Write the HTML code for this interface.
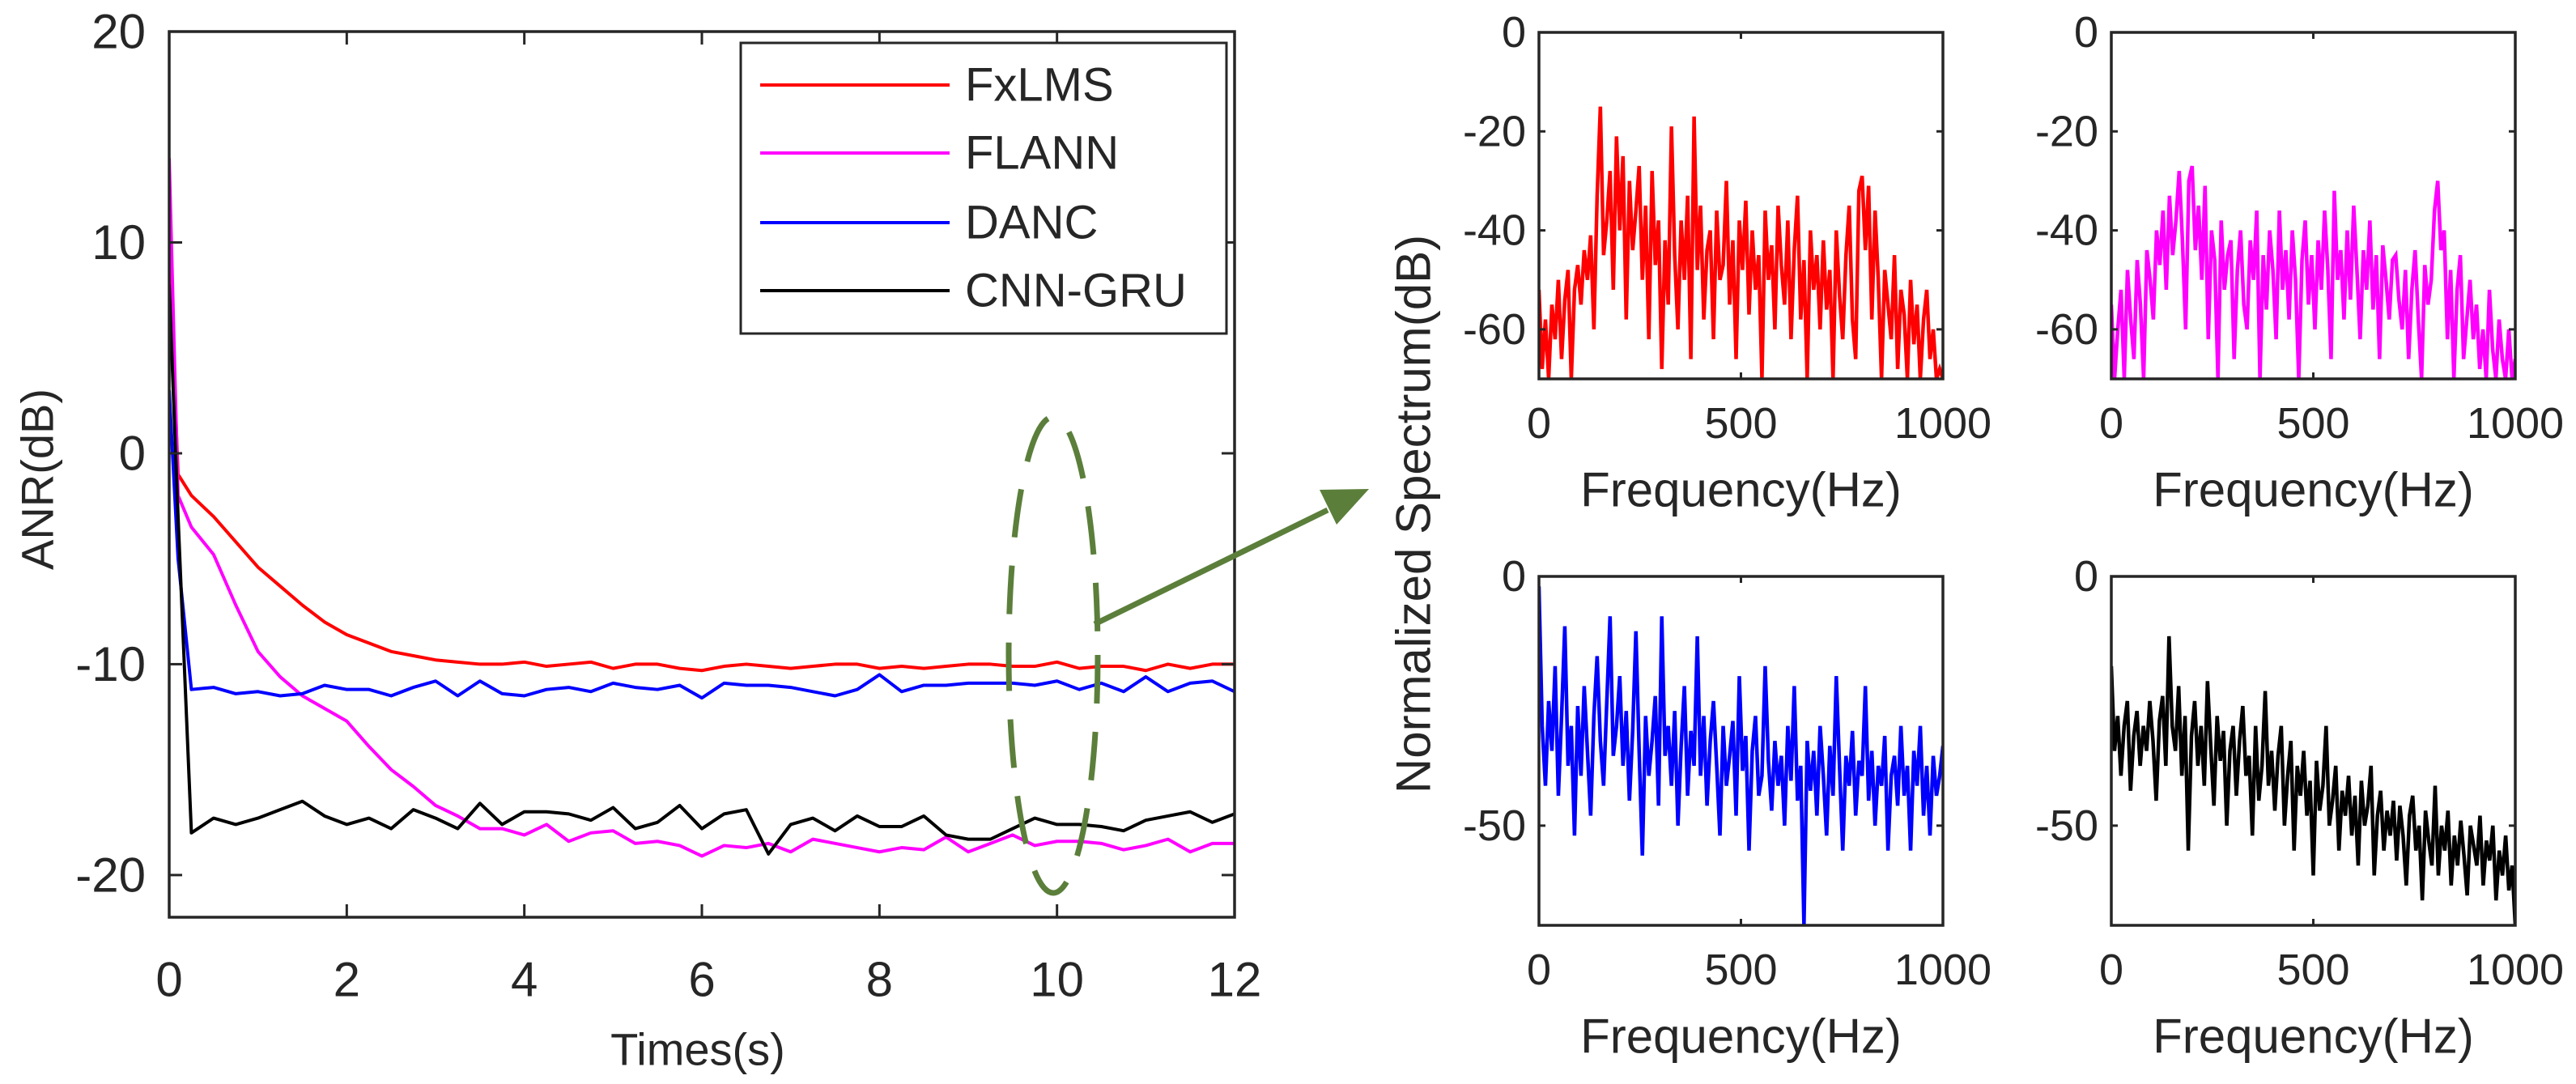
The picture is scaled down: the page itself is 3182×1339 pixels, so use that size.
<!DOCTYPE html>
<html><head><meta charset="utf-8"><style>
html,body{margin:0;padding:0;background:#fff}
svg{display:block}
text{font-family:"Liberation Sans",Arial,sans-serif;fill:#262626}
</style></head><body>
<svg id="fig" width="3182" height="1339" viewBox="0 0 3182 1339" xmlns="http://www.w3.org/2000/svg">
<g id="main"></g>
<g id="spec"></g>
<g>
<ellipse cx="1301" cy="809" rx="55" ry="294" fill="none" stroke="#5b7f3b" stroke-width="7" stroke-dasharray="60,35"/>
<line x1="1352" y1="771" x2="1640" y2="630" stroke="#5b7f3b" stroke-width="7"/>
<polygon points="1691,604 1630,605 1651,648" fill="#5b7f3b"/>
</g>
<text x="1746" y="635" font-size="60" text-anchor="middle" dominant-baseline="central" transform="rotate(-90 1746 635)">Normalized Spectrum(dB)</text>
</svg>
<script>
// ANR chart data
const times=[0,0.1,0.25,0.5,0.75,1,1.25,1.5,1.75,2,2.25,2.5,2.75,3,3.25,3.5,3.75,4,4.25,4.5,4.75,5,5.25,5.5,5.75,6,6.25,6.5,6.75,7,7.25,7.5,7.75,8,8.25,8.5,8.75,9,9.25,9.5,9.75,10,10.25,10.5,10.75,11,11.25,11.5,11.75,12];
const fxlms=[10,-1,-2,-3,-4.2,-5.4,-6.3,-7.2,-8,-8.6,-9,-9.4,-9.6,-9.8,-9.9,-10,-10,-9.9,-10.1,-10,-9.9,-10.2,-10,-10,-10.2,-10.3,-10.1,-10,-10.1,-10.2,-10.1,-10,-10,-10.2,-10.1,-10.2,-10.1,-10,-10,-10.1,-10.1,-9.9,-10.2,-10.1,-10.1,-10.3,-10,-10.2,-10,-10];
const flann=[14,-2,-3.5,-4.8,-7.2,-9.4,-10.6,-11.5,-12.1,-12.7,-13.9,-15,-15.8,-16.7,-17.2,-17.8,-17.8,-18.1,-17.6,-18.4,-18,-17.9,-18.5,-18.4,-18.6,-19.1,-18.6,-18.7,-18.5,-18.9,-18.3,-18.5,-18.7,-18.9,-18.7,-18.8,-18.2,-18.9,-18.5,-18.1,-18.6,-18.4,-18.4,-18.5,-18.8,-18.6,-18.3,-18.9,-18.5,-18.5];
const danc=[3,-5,-11.2,-11.1,-11.4,-11.3,-11.5,-11.4,-11,-11.2,-11.2,-11.5,-11.1,-10.8,-11.5,-10.8,-11.4,-11.5,-11.2,-11.1,-11.3,-10.9,-11.1,-11.2,-11,-11.6,-10.9,-11,-11,-11.1,-11.3,-11.5,-11.2,-10.5,-11.3,-11,-11,-10.9,-10.9,-10.9,-11,-10.8,-11.2,-10.9,-11.3,-10.6,-11.3,-10.9,-10.8,-11.3];
const cnngru=[8,-3,-18,-17.3,-17.6,-17.3,-16.9,-16.5,-17.2,-17.6,-17.3,-17.8,-16.9,-17.3,-17.8,-16.6,-17.6,-17,-17,-17.1,-17.4,-16.8,-17.8,-17.5,-16.7,-17.8,-17.1,-16.9,-19,-17.6,-17.3,-17.9,-17.2,-17.7,-17.7,-17.2,-18.1,-18.3,-18.3,-17.8,-17.3,-17.6,-17.6,-17.7,-17.9,-17.4,-17.2,-17,-17.5,-17.1];
const xTicks=[0,2,4,6,8,10,12];
const yTicks=[-20,-10,0,10,20];
const seriesNames=["FxLMS","FLANN","DANC","CNN-GRU"];
// Spectrum data (dB), evenly spaced 0..1000 Hz
const specRed=[-52,-68,-58,-70,-55,-62,-50,-66,-54,-48,-70,-52,-47,-55,-44,-50,-41,-60,-33,-15,-45,-38,-28,-52,-21,-40,-25,-58,-30,-44,-36,-27,-50,-35,-62,-28,-47,-38,-68,-42,-55,-19,-45,-60,-38,-50,-33,-66,-17,-48,-35,-58,-44,-40,-62,-36,-50,-47,-30,-55,-42,-66,-38,-48,-34,-57,-40,-52,-45,-70,-36,-50,-43,-60,-35,-47,-55,-38,-62,-44,-33,-58,-46,-70,-40,-52,-45,-60,-42,-56,-48,-70,-40,-53,-62,-45,-35,-58,-66,-32,-29,-44,-31,-58,-36,-50,-70,-48,-55,-62,-45,-68,-52,-57,-70,-50,-63,-55,-70,-58,-52,-66,-60,-70,-68,-70];
const specMagenta=[-55,-70,-60,-52,-70,-48,-58,-66,-46,-55,-70,-44,-50,-58,-40,-47,-36,-52,-33,-45,-38,-28,-42,-60,-30,-27,-44,-35,-50,-31,-62,-40,-46,-70,-38,-52,-45,-42,-66,-48,-40,-55,-60,-42,-50,-36,-70,-45,-56,-40,-48,-62,-36,-52,-44,-58,-40,-50,-70,-46,-38,-55,-45,-60,-42,-52,-36,-48,-66,-32,-50,-44,-58,-40,-54,-35,-48,-62,-44,-52,-38,-56,-45,-66,-43,-50,-58,-46,-45,-54,-60,-48,-66,-52,-44,-58,-70,-47,-55,-50,-36,-30,-44,-40,-62,-48,-70,-52,-45,-66,-58,-50,-62,-55,-68,-60,-70,-52,-64,-70,-58,-66,-70,-60,-70,-66];
const specBlue=[-2,-30,-42,-25,-35,-18,-44,-28,-10,-38,-30,-52,-26,-40,-22,-35,-48,-28,-16,-33,-42,-25,-8,-36,-30,-20,-38,-27,-45,-31,-11,-35,-56,-28,-40,-33,-24,-46,-8,-36,-30,-42,-27,-50,-34,-22,-44,-31,-38,-12,-40,-28,-46,-33,-25,-38,-52,-30,-42,-36,-29,-48,-20,-39,-32,-55,-35,-28,-44,-40,-18,-37,-47,-33,-42,-36,-50,-30,-41,-22,-45,-38,-70,-33,-43,-35,-48,-30,-40,-52,-34,-44,-20,-38,-55,-36,-42,-31,-48,-37,-40,-22,-45,-35,-50,-38,-42,-32,-55,-40,-36,-46,-30,-44,-38,-55,-35,-42,-30,-48,-38,-52,-36,-44,-40,-34];
const specBlack=[-18,-35,-28,-40,-30,-25,-43,-32,-27,-38,-30,-35,-25,-33,-45,-29,-24,-38,-12,-30,-35,-22,-40,-28,-55,-32,-25,-38,-30,-42,-21,-34,-46,-28,-37,-31,-50,-35,-30,-44,-33,-26,-40,-36,-52,-30,-45,-38,-23,-42,-35,-47,-36,-30,-50,-40,-33,-55,-38,-44,-35,-48,-41,-60,-37,-47,-42,-30,-50,-45,-38,-55,-43,-48,-40,-52,-44,-58,-41,-50,-46,-38,-60,-48,-43,-55,-47,-52,-45,-57,-46,-52,-62,-48,-44,-55,-50,-65,-47,-53,-58,-42,-60,-50,-55,-47,-62,-52,-58,-49,-56,-64,-50,-54,-58,-48,-62,-53,-57,-50,-65,-55,-60,-52,-63,-58,-70];
const freqTicks=[0,500,1000];
const specTopTicks=[0,-20,-40,-60];
const specBottomTicks=[0,-50];

const NS="http://www.w3.org/2000/svg";
function mk(parent,tag,attrs){const e=document.createElementNS(NS,tag);for(const k in attrs)e.setAttribute(k,attrs[k]);parent.appendChild(e);return e;}
const AX="#262626";

// ---- main chart
const main=document.getElementById('main');
const L=209,R=1525,T=39,B=1133,ymin=-22,ymax=20;
const sx=t=>L+(t/12)*(R-L);
const sy=v=>B-(v-ymin)/(ymax-ymin)*(B-T);
const colors=["#ff0000","#ff00ff","#0000ff","#000000"];
const allSeries=[fxlms,flann,danc,cnngru];
const clip=mk(main,'clipPath',{id:'mclip'});mk(clip,'rect',{x:L,y:T,width:R-L,height:B-T});
allSeries.forEach((s,i)=>{
  const p=mk(main,'polyline',{points:s.map((v,j)=>sx(times[j])+','+sy(v)).join(' '),fill:'none',stroke:colors[i],'stroke-width':4,'stroke-linejoin':'round','clip-path':'url(#mclip)'});
  
  
});
const box=mk(main,'rect',{x:L,y:T,width:R-L,height:B-T,fill:'none',stroke:AX,'stroke-width':3.5});


xTicks.forEach(t=>{
  const x=sx(t);
  mk(main,'line',{x1:x,y1:B,x2:x,y2:B-16,stroke:AX,'stroke-width':3});
  mk(main,'line',{x1:x,y1:T,x2:x,y2:T+16,stroke:AX,'stroke-width':3});
  const tx=mk(main,'text',{x:x,y:1210,'font-size':60,'text-anchor':'middle','dominant-baseline':'central'});
  tx.textContent=t;
  
  
});
yTicks.forEach(v=>{
  const y=sy(v);
  mk(main,'line',{x1:L,y1:y,x2:L+16,y2:y,stroke:AX,'stroke-width':3});
  mk(main,'line',{x1:R,y1:y,x2:R-16,y2:y,stroke:AX,'stroke-width':3});
  const tx=mk(main,'text',{x:180,y:y,'font-size':60,'text-anchor':'end','dominant-baseline':'central'});
  tx.textContent=v;
  
  
});
const xt=mk(main,'text',{x:862,y:1296,'font-size':56,'text-anchor':'middle','dominant-baseline':'central'});
xt.textContent='Times(s)';


const yt=mk(main,'text',{x:46,y:592,'font-size':56,'text-anchor':'middle','dominant-baseline':'central',transform:'rotate(-90 46 592)'});
yt.textContent='ANR(dB)';


// legend
const lg=mk(main,'g',{});


mk(lg,'rect',{x:915,y:53,width:600,height:359,fill:'#fff',stroke:AX,'stroke-width':3});
const legY=[105,189,275,359];
seriesNames.forEach((n,i)=>{
  const g=mk(lg,'g',{});
  
  
  mk(g,'line',{x1:939,y1:legY[i],x2:1173,y2:legY[i],stroke:colors[i],'stroke-width':4});
  const t=mk(g,'text',{x:1192,y:legY[i],'font-size':58,'dominant-baseline':'central'});
  t.textContent=n;
});

// ---- spectrum charts
const spec=document.getElementById('spec');
const panels=[
 {d:specRed,c:"#ff0000",x0:1901,y0:40,y1:468,ticks:specTopTicks,name:'spectrum-fxlms'},
 {d:specMagenta,c:"#ff00ff",x0:2608,y0:40,y1:468,ticks:specTopTicks,name:'spectrum-flann'},
 {d:specBlue,c:"#0000ff",x0:1901,y0:712,y1:1143,ticks:specBottomTicks,name:'spectrum-danc'},
 {d:specBlack,c:"#000000",x0:2608,y0:712,y1:1143,ticks:specBottomTicks,name:'spectrum-cnn-gru'}
];
panels.forEach((p,k)=>{
  const W=499;
  const g=mk(spec,'g',{});
  
  
  const fx=f=>p.x0+f/1000*W;
  const fy=v=>p.y0+(0-v)/70*(p.y1-p.y0);
  const cp=mk(g,'clipPath',{id:'sc'+k});mk(cp,'rect',{x:p.x0,y:p.y0,width:W,height:p.y1-p.y0});
  const n=p.d.length;
  const line=mk(g,'polyline',{points:p.d.map((v,i)=>fx(i*1000/(n-1))+','+fy(Math.max(v,-70))).join(' '),fill:'none',stroke:p.c,'stroke-width':4.5,'clip-path':'url(#sc'+k+')'});
  
  
  const fr=mk(g,'rect',{x:p.x0,y:p.y0,width:W,height:p.y1-p.y0,fill:'none',stroke:AX,'stroke-width':3.5});
  
  
  freqTicks.forEach(f=>{
    const x=fx(f);
    mk(g,'line',{x1:x,y1:p.y1,x2:x,y2:p.y1-8,stroke:AX,'stroke-width':3});
    mk(g,'line',{x1:x,y1:p.y0,x2:x,y2:p.y0+8,stroke:AX,'stroke-width':3});
    const t=mk(g,'text',{x:x,y:p.y1+55,'font-size':54,'text-anchor':'middle','dominant-baseline':'central'});
    t.textContent=f;
    
    
  });
  p.ticks.forEach(v=>{
    const y=fy(v);
    mk(g,'line',{x1:p.x0,y1:y,x2:p.x0+8,y2:y,stroke:AX,'stroke-width':3});
    mk(g,'line',{x1:p.x0+W,y1:y,x2:p.x0+W-8,y2:y,stroke:AX,'stroke-width':3});
    const t=mk(g,'text',{x:p.x0-16,y:y,'font-size':54,'text-anchor':'end','dominant-baseline':'central'});
    t.textContent=v;
    
    
  });
  const xl=mk(g,'text',{x:p.x0+W/2,y:p.y1+137,'font-size':60,'text-anchor':'middle','dominant-baseline':'central'});
  xl.textContent='Frequency(Hz)';
  
  
});
</script>
</body></html>
